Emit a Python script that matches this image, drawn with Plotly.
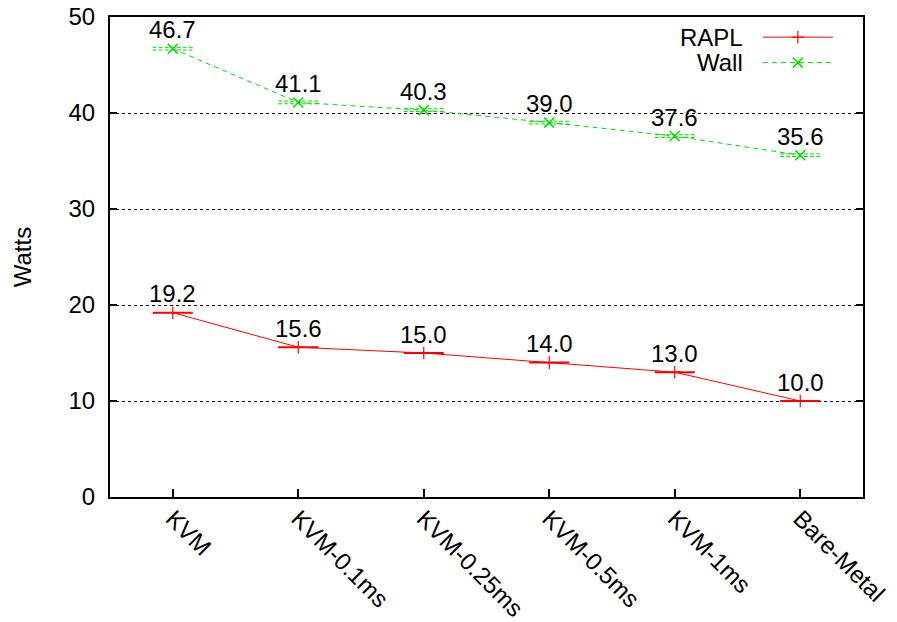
import plotly.graph_objects as go

categories = ["KVM", "KVM-0.1ms", "KVM-0.25ms", "KVM-0.5ms", "KVM-1ms", "Bare-Metal"]
rapl = [19.2, 15.6, 15.0, 14.0, 13.0, 10.0]
wall = [46.7, 41.1, 40.3, 39.0, 37.6, 35.6]
y_ticks = [0, 10, 20, 30, 40, 50]

RED = "#ff0000"
GREEN = "#00e000"
FONT = "Liberation Sans, Arial, Helvetica, sans-serif"
FS = 24
HW = 0.16  # half width of the horizontal error bars (category units)

xs = list(range(len(categories)))
fig = go.Figure()

# horizontal error-bar segments built from the data
def seg(vals, off=0.0):
    sx, sy = [], []
    for i, v in zip(xs, vals):
        sx += [i - HW, i + HW, None]
        sy += [v + off, v + off, None]
    return sx, sy

# RAPL
sx, sy = seg(rapl)
fig.add_trace(go.Scatter(x=sx, y=sy, mode="lines", line=dict(color=RED, width=2),
                         showlegend=False, hoverinfo="skip"))
fig.add_trace(go.Scatter(x=xs, y=rapl, mode="lines+markers", name="RAPL",
                         line=dict(color=RED, width=1),
                         marker=dict(symbol="cross-thin", size=9, line=dict(color=RED, width=1.2)),
                         showlegend=False))

# Wall
for off in (-0.14, 0.14):
    sx, sy = seg(wall, off)
    fig.add_trace(go.Scatter(x=sx, y=sy, mode="lines", line=dict(color=GREEN, width=1, dash="4px,2px"),
                             showlegend=False, hoverinfo="skip"))
fig.add_trace(go.Scatter(x=xs, y=wall, mode="lines+markers", name="Wall",
                         line=dict(color=GREEN, width=1, dash="5px,4px"),
                         marker=dict(symbol="x-thin", size=10, line=dict(color=GREEN, width=1.5)),
                         showlegend=False))

# value labels
for series in (rapl, wall):
    for i, v in zip(xs, series):
        fig.add_annotation(x=i, y=v, text=f"{v:.1f}", showarrow=False, yanchor="middle",
                           yshift=19, font=dict(family=FONT, size=FS, color="black"))

# custom gnuplot-style key (text left, sample right) on an overlay axis
legend_names = ["RAPL", "Wall"]
legend_y = [0.958, 0.905]
fig.add_trace(go.Scatter(x=[0.867, 0.960], y=[legend_y[0]] * 2, mode="lines", xaxis="x2", yaxis="y2",
                         line=dict(color=RED, width=1), showlegend=False, hoverinfo="skip"))
fig.add_trace(go.Scatter(x=[0.9135], y=[legend_y[0]], mode="markers", xaxis="x2", yaxis="y2",
                         marker=dict(symbol="cross-thin", size=9, line=dict(color=RED, width=1.2)),
                         showlegend=False, hoverinfo="skip"))
fig.add_trace(go.Scatter(x=[0.867, 0.960], y=[legend_y[1]] * 2, mode="lines", xaxis="x2", yaxis="y2",
                         line=dict(color=GREEN, width=1, dash="5px,4px"), showlegend=False, hoverinfo="skip"))
fig.add_trace(go.Scatter(x=[0.9135], y=[legend_y[1]], mode="markers", xaxis="x2", yaxis="y2",
                         marker=dict(symbol="x-thin", size=10, line=dict(color=GREEN, width=1.5)),
                         showlegend=False, hoverinfo="skip"))
for name, ly in zip(legend_names, legend_y):
    fig.add_annotation(x=0.843, y=ly, xref="x2", yref="y2", text=name, showarrow=False,
                       xanchor="right", yanchor="middle", font=dict(family=FONT, size=FS, color="black"))

fig.update_layout(
    width=897, height=622,
    margin=dict(l=110, r=34, t=17, b=125, autoexpand=False),
    paper_bgcolor="white", plot_bgcolor="white",
    font=dict(family=FONT, size=FS, color="black"),
    xaxis=dict(range=[-0.5, 5.5], tickvals=xs, ticktext=categories, tickangle=45,
               ticks="inside", ticklen=8, tickwidth=1.5, tickcolor="black",
               showline=True, linewidth=2, linecolor="black", mirror=True, automargin=False,
               ticklabelstandoff=-4,
               showgrid=False, zeroline=False, tickfont=dict(family=FONT, size=FS)),
    yaxis=dict(range=[0, 50], tickvals=y_ticks, ticks="inside", ticklen=7, tickwidth=1.5,
               tickcolor="black", showline=True, linewidth=2, linecolor="black", mirror="ticks",
               showgrid=True, gridcolor="black", griddash="dot", gridwidth=1, zeroline=False,
               ticklabelstandoff=8, automargin=False,
               title=dict(text="Watts", standoff=30, font=dict(family=FONT, size=FS)),
               tickfont=dict(family=FONT, size=FS)),
    xaxis2=dict(range=[0, 1], overlaying="x", visible=False, fixedrange=True),
    yaxis2=dict(range=[0, 1], overlaying="y", visible=False, fixedrange=True),
)

fig.write_html("out.html", config={"displayModeBar": False},
               post_script="document.body.style.margin='0';")
